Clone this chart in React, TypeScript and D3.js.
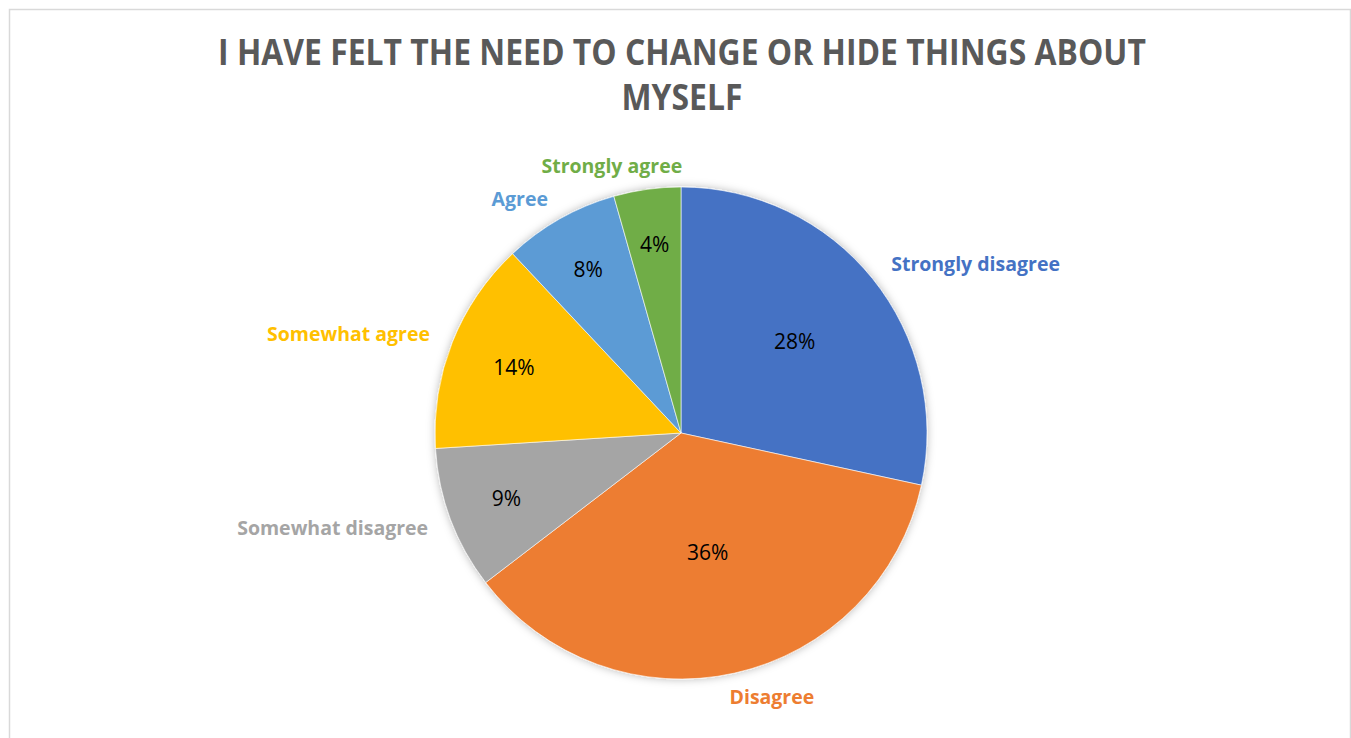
import React, { useEffect, useRef } from "react";
import * as d3 from "d3";

const categories = ["Strongly disagree", "Disagree", "Somewhat disagree", "Somewhat agree", "Agree", "Strongly agree"];
const values = [28.4, 36.2, 9.4, 14.0, 7.6, 4.4];
const colors = ["#4472C4", "#ED7D31", "#A5A5A5", "#FFC000", "#5B9BD5", "#70AD47"];
const titleLines = ["I HAVE FELT THE NEED TO CHANGE OR HIDE THINGS ABOUT", "MYSELF"];

const W = 1351;
const H = 738;

export default function App() {
  const ref = useRef<SVGSVGElement | null>(null);

  useEffect(() => {
    const svg = d3.select(ref.current);
    svg.selectAll("*").remove();

    const defs = svg.append("defs");
    const f = defs.append("filter").attr("id", "sh").attr("x", "-20%").attr("y", "-20%").attr("width", "140%").attr("height", "140%");
    f.append("feDropShadow").attr("dx", 0).attr("dy", 0).attr("stdDeviation", 4).attr("flood-color", "#000").attr("flood-opacity", 0.28);

    svg.append("rect").attr("width", W).attr("height", H).attr("fill", "#fff");
    svg.append("rect").attr("x", 9.5).attr("y", 9.5).attr("width", 1341).attr("height", H + 20)
      .attr("fill", "none").attr("stroke", "#d9d9d9").attr("stroke-width", 1.5);

    // Title
    const tg = svg.append("g");
    const tLines = tg.selectAll("text").data(titleLines).join("text")
      .attr("x", 0).attr("y", (_d, i) => 65 + i * 45)
      .attr("text-anchor", "middle")
      .attr("font-family", "'Open Sans', sans-serif").attr("font-weight", 700)
      .attr("font-size", 36).attr("fill", "#595959")
      .text(d => d);
    const natural = (tLines.node() as SVGTextElement).getComputedTextLength();
    const sx = 928 / natural;
    tg.attr("transform", `translate(682,0) scale(${sx},1)`);

    const cx = 681, cy = 433, R = 246;
    const pie = d3.pie<number>().sort(null).value(d => d);
    const arcs = pie(values);
    const arc = d3.arc<d3.PieArcDatum<number>>().innerRadius(0).outerRadius(R);
    const total = d3.sum(values);

    const g = svg.append("g").attr("transform", `translate(${cx},${cy})`);
    const pg = g.append("g").attr("filter", "url(#sh)");
    pg.selectAll("path").data(arcs).join("path")
      .attr("d", arc as any)
      .attr("fill", (_d, i) => colors[i])
      .attr("stroke", "#fff").attr("stroke-width", 0.6);

    // percent labels
    g.selectAll("text.pct").data(arcs).join("text").attr("class", "pct")
      .each(function (d) {
        const mid = (d.startAngle + d.endAngle) / 2;
        const a = (d.endAngle - d.startAngle) / 2;
        const k = Math.sin(a) / a;
        const r = 0.78 * R * k * k;
        d3.select(this).attr("x", r * Math.sin(mid)).attr("y", -r * Math.cos(mid));
      })
      .attr("text-anchor", "middle").attr("dominant-baseline", "central")
      .attr("font-family", "'Open Sans', sans-serif").attr("font-size", 21).attr("fill", "#000")
      .text(d => `${Math.round((d.value / total) * 100)}%`);

    // category labels
    const LR = 270;
    g.selectAll("text.cat").data(arcs).join("text").attr("class", "cat")
      .each(function (d, i) {
        const mid = (d.startAngle + d.endAngle) / 2;
        const s = Math.sin(mid);
        let x = LR * s;
        const y = -LR * Math.cos(mid);
        let anchor = s > 0 ? "start" : "end";
        if (Math.abs(s) < 0.3) {
          anchor = "middle";
          x += Math.sign(s) * 32;
        }
        d3.select(this).attr("x", x).attr("y", y).attr("text-anchor", anchor)
          .attr("fill", colors[i]);
      })
      .attr("dominant-baseline", "central")
      .attr("font-family", "'Open Sans', sans-serif").attr("font-weight", 700).attr("font-size", 19.5)
      .text((_d, i) => categories[i]);
  }, []);

  return (
    <svg ref={ref} width={W} height={H} style={{ position: "absolute", left: 0, top: 0, display: "block" }} />
  );
}
